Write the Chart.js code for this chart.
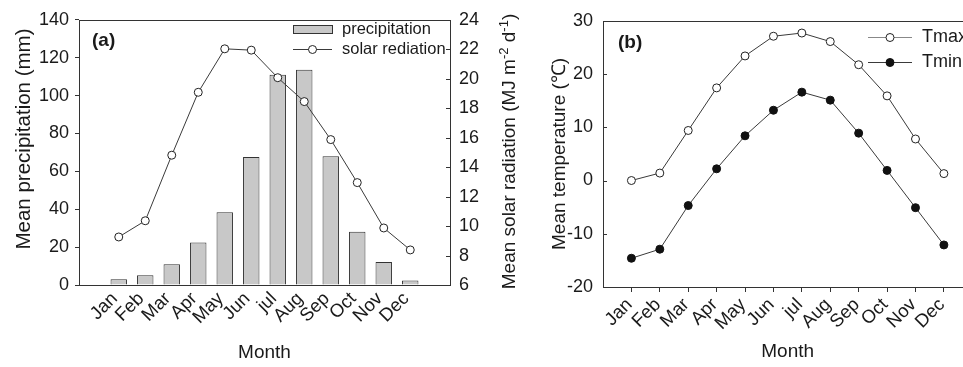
<!DOCTYPE html>
<html>
<head>
<meta charset="utf-8">
<script src="https://cdn.jsdelivr.net/npm/chart.js@4.4.1/dist/chart.umd.min.js"></script>
<style>
  html, body { margin: 0; padding: 0; background: #fff; overflow: hidden; width: 963px; height: 367px; }
  #wrapA { position: absolute; left: 0; top: 0; width: 545px; height: 367px; }
  #wrapB { position: absolute; left: 540px; top: 0; width: 450px; height: 367px; }
</style>
</head>
<body>
<div id="wrapA"><canvas id="chartA" width="545" height="367"></canvas></div>
<div id="wrapB"><canvas id="chartB" width="450" height="367"></canvas></div>
<script>
const months = ["Jan", "Feb", "Mar", "Apr", "May", "Jun", "jul", "Aug", "Sep", "Oct", "Nov", "Dec"];
const precipitation = [3.0, 5.2, 11.0, 22.4, 38.4, 67.6, 111.0, 113.6, 68.0, 28.1, 12.1, 2.4];
const solarRadiation = [9.26, 10.36, 14.81, 19.08, 22.03, 21.94, 20.07, 18.45, 15.87, 12.95, 9.87, 8.38];
const tmax = [0.0, 1.4, 9.4, 17.4, 23.4, 27.1, 27.7, 26.1, 21.75, 15.9, 7.8, 1.3];
const tmin = [-14.6, -12.9, -4.7, 2.2, 8.4, 13.2, 16.6, 15.1, 8.9, 1.9, -5.1, -12.1];

const FONT = "'Liberation Sans', Arial, sans-serif";
const INK = "#1a1a1a";
const LINE = "#333";

const toXY = vals => vals.map((v, i) => ({ x: i + 1, y: v }));
const monthTick = v => months[v - 1] || "";

// box round the plot, inner ticks, legend, panel letter, rotated titles
const decor = {
  id: "decor",
  afterDatasetsDraw(chart, args, opts) {
    const { ctx, chartArea: a } = chart;
    ctx.save();
    ctx.strokeStyle = LINE;
    ctx.lineWidth = 1;
    ctx.strokeRect(Math.round(a.left) + 0.5, Math.round(a.top) + 0.5,
      Math.round(a.right - a.left), Math.round(a.bottom - a.top));
    (opts.innerTicks || []).forEach(id => {
      const s = chart.scales[id];
      s.ticks.forEach(t => {
        const y = Math.round(s.getPixelForValue(t.value)) + 0.5;
        ctx.beginPath();
        if (s.position === "right") { ctx.moveTo(a.right - 4, y); ctx.lineTo(a.right, y); }
        else { ctx.moveTo(a.left, y); ctx.lineTo(a.left + 4, y); }
        ctx.stroke();
      });
    });
    ctx.restore();
  },
  afterDraw(chart, args, opts) {
    const { ctx } = chart;
    ctx.save();
    ctx.fillStyle = INK;
    ctx.textBaseline = "middle";
    ctx.font = "bold 19px " + FONT;
    ctx.fillText(opts.panel.text, opts.panel.x, opts.panel.y);

    ctx.font = opts.legendFont + "px " + FONT;
    opts.legend.forEach(item => {
      const ds = chart.data.datasets[item.index];
      ctx.strokeStyle = LINE;
      ctx.lineWidth = 1;
      if (item.kind === "bar") {
        ctx.fillStyle = ds.backgroundColor;
        ctx.fillRect(item.x0, item.y - 4, item.x1 - item.x0, 8);
        ctx.strokeRect(item.x0 + 0.5, item.y - 3.5, item.x1 - item.x0, 8);
      } else {
        ctx.strokeStyle = item.lineColor || ds.borderColor;
        ctx.beginPath();
        ctx.moveTo(item.x0, item.y + 0.5);
        ctx.lineTo(item.x1, item.y + 0.5);
        ctx.stroke();
        ctx.beginPath();
        ctx.arc((item.x0 + item.x1) / 2, item.y + 0.5, 4, 0, Math.PI * 2);
        ctx.fillStyle = ds.pointBackgroundColor;
        ctx.fill();
        ctx.strokeStyle = ds.pointBorderColor;
        ctx.stroke();
      }
      ctx.fillStyle = INK;
      ctx.fillText(ds.label, item.tx, item.y);
    });
    ctx.restore();

    (opts.sideTitles || []).forEach(t => {
      const big = t.size + "px " + FONT, small = Math.round(t.size * 0.68) + "px " + FONT;
      let total = 0;
      t.parts.forEach(p => { ctx.font = p.sup ? small : big; total += ctx.measureText(p.text).width; });
      ctx.save();
      ctx.fillStyle = INK;
      ctx.textBaseline = "middle";
      ctx.textAlign = "left";
      ctx.translate(t.x, t.y);
      ctx.rotate(-Math.PI / 2);
      let cx = -total / 2;
      t.parts.forEach(p => {
        ctx.font = p.sup ? small : big;
        ctx.fillText(p.text, cx, p.sup ? -6 : 0);
        cx += ctx.measureText(p.text).width;
      });
      ctx.restore();
    });
  }
};

function fixed(prop, val) {
  return s => { s[prop] = val; };
}

const tickFont = { family: FONT, size: 18 };
const monthFont = { family: FONT, size: 18.5 };
const titleFont = { family: FONT, size: 19 };

new Chart(document.getElementById("chartA"), {
  type: "bar",
  data: {
    datasets: [
      {
        type: "line",
        label: "solar rediation",
        data: toXY(solarRadiation),
        yAxisID: "y1",
        order: 0,
        borderColor: "#3a3a3a",
        borderWidth: 1,
        pointRadius: 4,
        pointBackgroundColor: "#fff",
        pointBorderColor: "#222",
        pointBorderWidth: 1,
        tension: 0
      },
      {
        type: "bar",
        label: "precipitation",
        data: toXY(precipitation),
        yAxisID: "y",
        order: 1,
        backgroundColor: "#c8c8c8",
        borderColor: "#333",
        borderWidth: 1,
        barPercentage: 0.62,
        categoryPercentage: 1
      }
    ]
  },
  options: {
    responsive: false,
    animation: false,
    devicePixelRatio: 1,
    layout: { padding: { left: 0, right: 0, top: 18, bottom: 0 } },
    plugins: {
      legend: { display: false },
      tooltip: { enabled: false },
      decor: {
        innerTicks: ["y1"],
        panel: { text: "(a)", x: 92, y: 41 },
        legendFont: 16.5,
        legend: [
          { index: 1, kind: "bar", x0: 293, x1: 332, y: 29, tx: 342 },
          { index: 0, kind: "line", x0: 293, x1: 332, y: 49, tx: 342 }
        ],
        sideTitles: [
          { x: 24, y: 139, size: 20.5, parts: [{ text: "Mean precipitation (mm)" }] },
          {
            x: 510, y: 151.5, size: 19,
            parts: [
              { text: "Mean solar radiation (MJ m" },
              { text: "-2", sup: true },
              { text: " d" },
              { text: "-1", sup: true },
              { text: ")" }
            ]
          }
        ]
      }
    },
    scales: {
      x: {
        type: "linear",
        min: 0, max: 13,
        afterFit: fixed("height", 82),
        grid: { drawOnChartArea: false, drawTicks: false, color: "rgba(0,0,0,0)" },
        border: { display: false },
        ticks: { stepSize: 1, autoSkip: false, minRotation: 45, maxRotation: 45, padding: 3, labelOffset: -4,
                 callback: monthTick, font: monthFont, color: INK },
        title: { display: true, text: "Month", font: titleFont, color: INK, padding: { bottom: 3 } }
      },
      y: {
        position: "left",
        min: 0, max: 140,
        afterFit: fixed("width", 79),
        grid: { drawOnChartArea: false, drawTicks: true, tickLength: 4, color: LINE },
        border: { display: false },
        ticks: { stepSize: 20, padding: 6, font: tickFont, color: INK }
      },
      y1: {
        position: "right",
        min: 6, max: 24,
        afterFit: fixed("width", 95),
        grid: { drawOnChartArea: false, drawTicks: false },
        border: { display: false },
        ticks: { stepSize: 2, padding: 9, font: tickFont, color: INK }
      }
    }
  },
  plugins: [decor]
});

new Chart(document.getElementById("chartB"), {
  type: "line",
  data: {
    datasets: [
      {
        label: "Tmax",
        data: toXY(tmax),
        borderColor: "#3a3a3a",
        borderWidth: 1,
        pointRadius: 4,
        pointBackgroundColor: "#fff",
        pointBorderColor: "#222",
        pointBorderWidth: 1,
        tension: 0
      },
      {
        label: "Tmin",
        data: toXY(tmin),
        borderColor: "#3a3a3a",
        borderWidth: 1,
        pointRadius: 4,
        pointBackgroundColor: "#111",
        pointBorderColor: "#111",
        pointBorderWidth: 1,
        tension: 0
      }
    ]
  },
  options: {
    responsive: false,
    animation: false,
    devicePixelRatio: 1,
    layout: { padding: { left: 0, right: 17, top: 20, bottom: 0 } },
    plugins: {
      legend: { display: false },
      tooltip: { enabled: false },
      decor: {
        innerTicks: ["y"],
        panel: { text: "(b)", x: 78, y: 43 },
        legendFont: 18,
        legend: [
          { index: 0, kind: "line", x0: 328, x1: 372, y: 37, tx: 382, lineColor: "#888" },
          { index: 1, kind: "line", x0: 328, x1: 372, y: 62, tx: 382 }
        ]
      }
    },
    scales: {
      x: {
        type: "linear",
        min: 0, max: 13,
        afterFit: fixed("height", 80),
        grid: {
          drawOnChartArea: false, drawTicks: true, tickLength: 5,
          color: c => (c.tick && monthTick(c.tick.value)) ? LINE : "rgba(0,0,0,0)"
        },
        border: { display: false },
        ticks: { stepSize: 1, autoSkip: false, minRotation: 45, maxRotation: 45, padding: 2, labelOffset: -2,
                 callback: monthTick, font: monthFont, color: INK },
        title: { display: true, text: "Month", font: titleFont, color: INK, padding: { bottom: 4 } }
      },
      y: {
        position: "left",
        min: -20, max: 30,
        afterFit: fixed("width", 63),
        grid: { drawOnChartArea: false, drawTicks: false },
        border: { display: false },
        ticks: { stepSize: 10, padding: 10, font: tickFont, color: INK },
        title: { display: true, text: "Mean temperature (℃)", font: titleFont, color: INK, padding: { top: 8 } }
      }
    }
  },
  plugins: [decor]
});
</script>
</body>
</html>
